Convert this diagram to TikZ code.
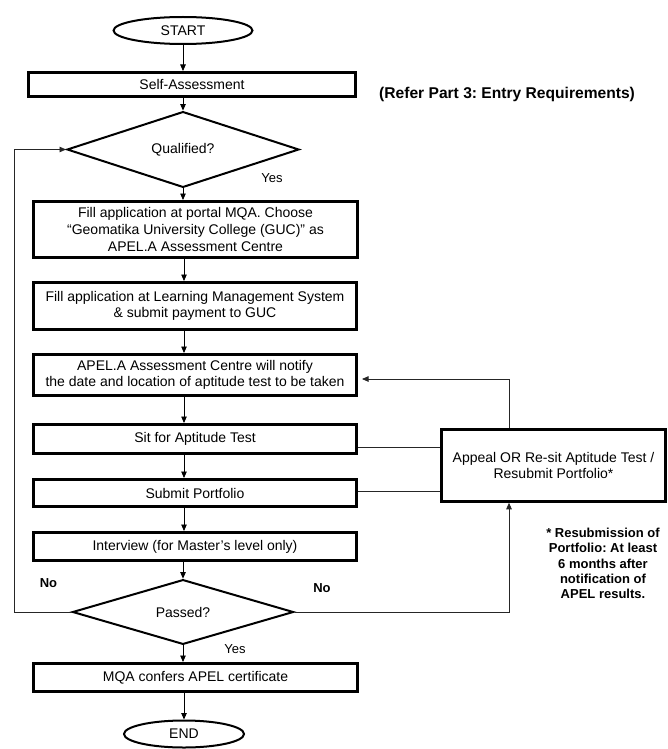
\documentclass[tikz,border=0pt]{standalone}
\usepackage{fontspec}
\setmainfont{Liberation Sans}
\usetikzlibrary{shapes,arrows.meta}
\frenchspacing

\begin{document}
\begin{tikzpicture}[x=1pt,y=-1pt,
  stepbox/.style={draw, line width=3pt, rectangle, inner sep=2pt, align=center, font=\fontsize{14}{15.5}\selectfont},
  decision/.style={draw, line width=2pt, diamond, inner sep=0pt, font=\fontsize{14}{15.5}\selectfont},
  terminal/.style={draw, line width=2pt, ellipse, inner sep=0pt, font=\fontsize{14}{15.5}\selectfont},
  arr/.style={-{Triangle[length=6.5pt,width=5.5pt]}, line width=0.8pt},
  link/.style={line width=0.8pt, color=black!85},
  yeslbl/.style={font=\fontsize{13}{15}\selectfont},
  nolbl/.style={font=\bfseries\fontsize{13}{15}\selectfont}]

\useasboundingbox (0,0) rectangle (668,749);

\coordinate (axis) at (184,0);
\coordinate (loop) at (14,0);
\coordinate (riser) at (509,0);

% main column
\node[terminal, minimum width=139, minimum height=27] (start) at (183,30.5) {START};
\node[stepbox, minimum width=327, minimum height=24] (self) at (192,84.5) {Self-Assessment};
\node[decision, minimum width=232, minimum height=50] (qual) at (183,149.5) {Qualified?};
\node[stepbox, minimum width=324, minimum height=56] (fill) at (195.5,229.5)
  {Fill application at portal MQA. Choose\\[1.5pt] “Geomatika University College (GUC)” as\\[1.5pt] APEL.A Assessment Centre};
\node[stepbox, minimum width=323, minimum height=47] (lms) at (195,306)
  {Fill application at Learning Management System\\ \& submit payment to GUC};
\node[stepbox, minimum width=323, minimum height=41] (notify) at (195,375)
  {APEL.A Assessment Centre will notify\\ the date and location of aptitude test to be taken};
\node[stepbox, minimum width=323, minimum height=29] (sit) at (195,439) {Sit for Aptitude Test};
\node[stepbox, minimum width=323, minimum height=27] (portfolio) at (195,493) {Submit Portfolio};
\node[stepbox, minimum width=323, minimum height=28] (interview) at (195,546.5) {Interview (for Master’s level only)};
\node[decision, minimum width=221, minimum height=53] (passed) at (183,612) {Passed?};
\node[stepbox, minimum width=324, minimum height=28] (mqa) at (195.5,677.5) {MQA confers APEL certificate};
\node[terminal, minimum width=120, minimum height=27] (finish) at (184,734) {END};

% side column
\node[stepbox, line width=2.5pt, minimum width=224, minimum height=72] (appeal) at (553.5,465.5)
  {Appeal OR Re-sit Aptitude Test /\\ Resubmit Portfolio*};
\node[font=\bfseries\fontsize{15.6}{18}\selectfont, anchor=west, inner sep=0pt] (refer) at (379,94)
  {(Refer Part 3: Entry Requirements)};
\node[font=\bfseries\fontsize{13}{15.2}\selectfont, align=center] (note) at (603,563.5)
  {* Resubmission of\\ Portfolio: At least\\ 6 months after\\ notification of\\ APEL results.};

% main flow
\draw[arr] (start.south) -- (self.north -| start.south);
\draw[arr] (self.south -| qual.north) -- (qual.north);
\draw[arr] (qual.south) -- (fill.north -| qual.south);
\node[yeslbl] (yesqual) at (272,178) {Yes};
\draw[arr] (fill.south -| axis) -- (lms.north -| axis);
\draw[arr] (lms.south -| axis) -- (notify.north -| axis);
\draw[arr] (notify.south -| axis) -- (sit.north -| axis);
\draw[arr] (sit.south -| axis) -- (portfolio.north -| axis);
\draw[arr] (portfolio.south -| axis) -- (interview.north -| axis);
\draw[arr] (interview.south -| passed.north) -- (passed.north);
\draw[arr] (passed.south) -- (mqa.north -| passed.south);
\node[yeslbl] (yespass) at (235,649) {Yes};
\draw[arr] (mqa.south -| finish.north) -- (finish.north);

% loops
\draw[arr, link] (passed.west) -- (passed.west -| loop) -- (qual.west -| loop) -- (qual.west);
\node[nolbl] (noleft) at (48.5,583) {No};
\draw[arr, link] (passed.east) -- (passed.east -| riser) -- (appeal.south -| riser);
\node[nolbl] (noright) at (322,588) {No};
\draw[arr, link, shorten >=4pt] (appeal.north -| riser) |- ([yshift=-4pt]notify.east);
\draw[link] ([yshift=-8pt]sit.east) -- ([yshift=-8pt]sit.east -| appeal.west);
\draw[link] ([yshift=2pt]portfolio.east) -- ([yshift=2pt]portfolio.east -| appeal.west);

\end{tikzpicture}
\end{document}
